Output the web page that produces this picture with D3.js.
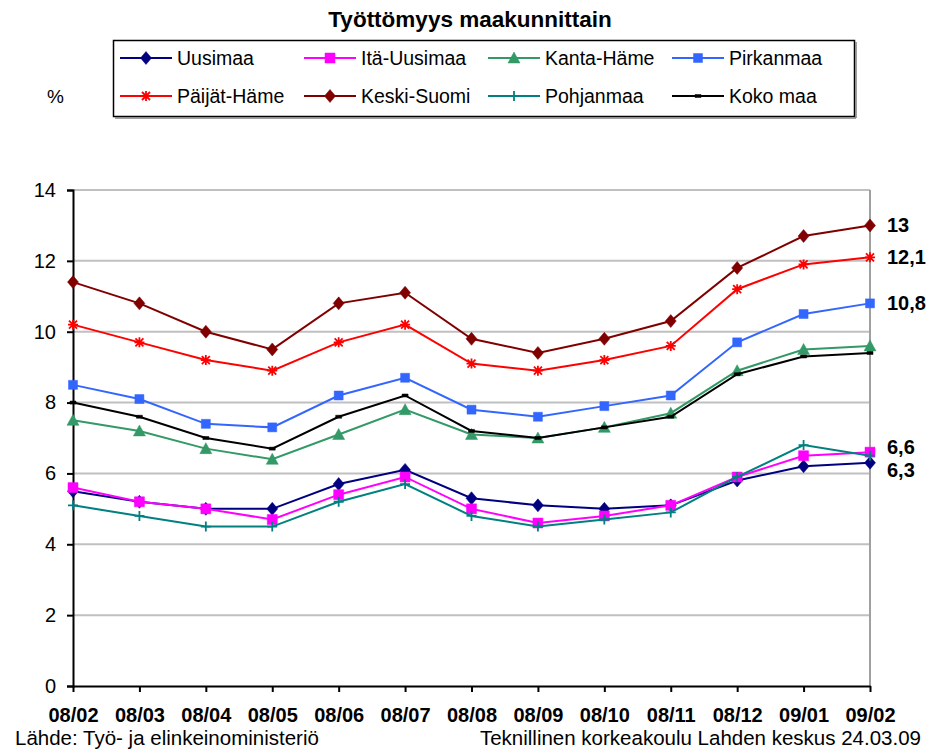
<!DOCTYPE html>
<html>
<head>
<meta charset="utf-8">
<script src="https://cdn.jsdelivr.net/npm/d3@7"></script>
<style>
  body { margin: 0; background: #fff; }
  text { font-family: "Liberation Sans", Arial, sans-serif; }
</style>
</head>
<body>
<div id="chart"></div>
<script>
var months = ["08/02", "08/03", "08/04", "08/05", "08/06", "08/07", "08/08", "08/09", "08/10", "08/11", "08/12", "09/01", "09/02"];
var yTicks = [0, 2, 4, 6, 8, 10, 12, 14];

var uusimaa     = [5.5, 5.2, 5.0, 5.0, 5.7, 6.1, 5.3, 5.1, 5.0, 5.1, 5.8, 6.2, 6.3];
var itaUusimaa  = [5.6, 5.2, 5.0, 4.7, 5.4, 5.9, 5.0, 4.6, 4.8, 5.1, 5.9, 6.5, 6.6];
var kantaHame   = [7.5, 7.2, 6.7, 6.4, 7.1, 7.8, 7.1, 7.0, 7.3, 7.7, 8.9, 9.5, 9.6];
var pirkanmaa   = [8.5, 8.1, 7.4, 7.3, 8.2, 8.7, 7.8, 7.6, 7.9, 8.2, 9.7, 10.5, 10.8];
var paijatHame  = [10.2, 9.7, 9.2, 8.9, 9.7, 10.2, 9.1, 8.9, 9.2, 9.6, 11.2, 11.9, 12.1];
var keskiSuomi  = [11.4, 10.8, 10.0, 9.5, 10.8, 11.1, 9.8, 9.4, 9.8, 10.3, 11.8, 12.7, 13.0];
var pohjanmaa   = [5.1, 4.8, 4.5, 4.5, 5.2, 5.7, 4.8, 4.5, 4.7, 4.9, 5.9, 6.8, 6.5];
var kokoMaa     = [8.0, 7.6, 7.0, 6.7, 7.6, 8.2, 7.2, 7.0, 7.3, 7.6, 8.8, 9.3, 9.4];

var series = [
  { name: "Uusimaa", values: uusimaa, color: "#000080", marker: "diamond", end: true, dy: 7 },
  { name: "Itä-Uusimaa", values: itaUusimaa, color: "#ff00ff", marker: "square", end: true, dy: -5 },
  { name: "Kanta-Häme", values: kantaHame, color: "#339966", marker: "triangle" },
  { name: "Pirkanmaa", values: pirkanmaa, color: "#3366ff", marker: "square2", end: true, dy: 0 },
  { name: "Päijät-Häme", values: paijatHame, color: "#ff0000", marker: "star", end: true, dy: 0 },
  { name: "Keski-Suomi", values: keskiSuomi, color: "#800000", marker: "diamond", end: true, dy: 0 },
  { name: "Pohjanmaa", values: pohjanmaa, color: "#008080", marker: "plus" },
  { name: "Koko maa", values: kokoMaa, color: "#000000", marker: "dash" }
];

var width = 928;
var height = 750;

var svg = d3.select("#chart")
  .append("svg")
  .attr("width", width)
  .attr("height", height);

var x = d3.scalePoint().domain(months).range([73, 870]);
var y = d3.scaleLinear().domain([0, 14]).range([686, 190]);

// title
svg.append("text")
  .attr("x", 470)
  .attr("y", 27)
  .attr("text-anchor", "middle")
  .style("font-size", "22.5px")
  .style("font-weight", "bold")
  .text("Työttömyys maakunnittain");

svg.append("text")
  .attr("x", 47)
  .attr("y", 103)
  .style("font-size", "19px")
  .text("%");

// grid
svg.append("g")
  .selectAll("line")
  .data(yTicks.filter(function(d){ return d > 0; }))
  .enter().append("line")
  .attr("x1", 73)
  .attr("x2", 870)
  .attr("y1", function(d){ return y(d); })
  .attr("y2", function(d){ return y(d); })
  .attr("stroke", "#c0c0c0")
  .attr("stroke-width", 2);

svg.append("line")
  .attr("x1", 870).attr("x2", 870)
  .attr("y1", y(14)).attr("y2", y(0))
  .attr("stroke", "#a0a0a0")
  .attr("stroke-width", 2);

// axes
var yAxis = svg.append("g")
  .attr("transform", "translate(73,0)")
  .call(d3.axisLeft(y).tickValues(yTicks).tickSize(6).tickPadding(11).tickFormat(d3.format("d")));
yAxis.select(".domain").attr("stroke", "#000").attr("stroke-width", 2);
yAxis.selectAll(".tick line").attr("stroke-width", 2);
yAxis.selectAll("text")
  .style("font-size", "20px")
  .style("font-family", "Liberation Sans, Arial, sans-serif");

var xAxis = svg.append("g")
  .attr("transform", "translate(0,686)")
  .call(d3.axisBottom(x).tickSize(6).tickPadding(16).tickSizeOuter(0));
xAxis.select(".domain").attr("stroke", "#000").attr("stroke-width", 2);
xAxis.selectAll(".tick line").attr("stroke-width", 2);
xAxis.selectAll("text")
  .style("font-size", "20px")
  .style("font-weight", "bold")
  .style("font-family", "Liberation Sans, Arial, sans-serif");

// markers
function markerPath(type) {
  if (type == "diamond") return "M0,-6.5L5.5,0L0,6.5L-5.5,0Z";
  if (type == "square") return "M-5,-5H5V5H-5Z";
  if (type == "square2") return "M-4.5,-4.5H4.5V4.5H-4.5Z";
  if (type == "triangle") return "M0,-6L6,5H-6Z";
  if (type == "star") return "M-4,-4L4,4M-4,4L4,-4M0,-5V5M-5,0H5";
  if (type == "plus") return "M0,-5V5M-5,0H5";
  if (type == "dash") return "M-3,-1.5H3V1.5H-3Z";
}

function drawMarker(g, type, color) {
  var stroked = (type == "star" || type == "plus");
  g.append("path")
    .attr("d", markerPath(type))
    .attr("fill", stroked ? "none" : color)
    .attr("stroke", color)
    .attr("stroke-width", stroked ? 1.8 : 0.5);
}

var line = d3.line()
  .x(function(d, i){ return x(months[i]); })
  .y(function(d){ return y(d); });

series.forEach(function(s){
  var g = svg.append("g");
  g.append("path")
    .attr("d", line(s.values))
    .attr("fill", "none")
    .attr("stroke", s.color)
    .attr("stroke-width", 2);
  s.values.forEach(function(v, i){
    var m = g.append("g").attr("transform", "translate(" + x(months[i]) + "," + y(v) + ")");
    drawMarker(m, s.marker, s.color);
  });
});

// end labels
svg.append("g")
  .selectAll("text")
  .data(series.filter(function(d){ return d.end; }))
  .enter().append("text")
  .attr("x", 887)
  .attr("y", function(d){ return y(d.values[d.values.length - 1]) + d.dy + 7; })
  .style("font-size", "20px")
  .style("font-weight", "bold")
  .text(function(d){ return String(d.values[d.values.length - 1]).replace(".", ","); });

// legend
var legend = svg.append("g");
legend.append("rect")
  .attr("x", 113.5).attr("y", 40.5)
  .attr("width", 741).attr("height", 76)
  .attr("fill", "#fff")
  .attr("stroke", "#000")
  .attr("stroke-width", 1.5);
legend.append("line")
  .attr("x1", 115).attr("x2", 856).attr("y1", 118).attr("y2", 118)
  .attr("stroke", "#808080").attr("stroke-width", 1.5);
legend.append("line")
  .attr("x1", 856).attr("x2", 856).attr("y1", 42).attr("y2", 118)
  .attr("stroke", "#808080").attr("stroke-width", 1.5);

var items = legend.selectAll(".item")
  .data(series)
  .enter().append("g")
  .attr("class", "item")
  .attr("transform", function(d, i){
    return "translate(" + (120 + (i % 4) * 184) + "," + (58 + Math.floor(i / 4) * 38) + ")";
  });

items.append("line")
  .attr("x1", 0).attr("x2", 52)
  .attr("stroke", function(d){ return d.color; })
  .attr("stroke-width", 2);
items.each(function(d){
  var m = d3.select(this).append("g").attr("transform", "translate(26,0)");
  drawMarker(m, d.marker, d.color);
});
items.append("text")
  .attr("x", 57)
  .attr("y", 7)
  .style("font-size", "19.5px")
  .text(function(d){ return d.name; });

// footer
svg.append("text")
  .attr("x", 15)
  .attr("y", 745)
  .style("font-size", "20.5px")
  .text("Lähde: Työ- ja elinkeinoministeriö");
svg.append("text")
  .attr("x", 921)
  .attr("y", 745)
  .attr("text-anchor", "end")
  .style("font-size", "20.5px")
  .text("Teknillinen korkeakoulu Lahden keskus 24.03.09");
</script>
</body>
</html>
